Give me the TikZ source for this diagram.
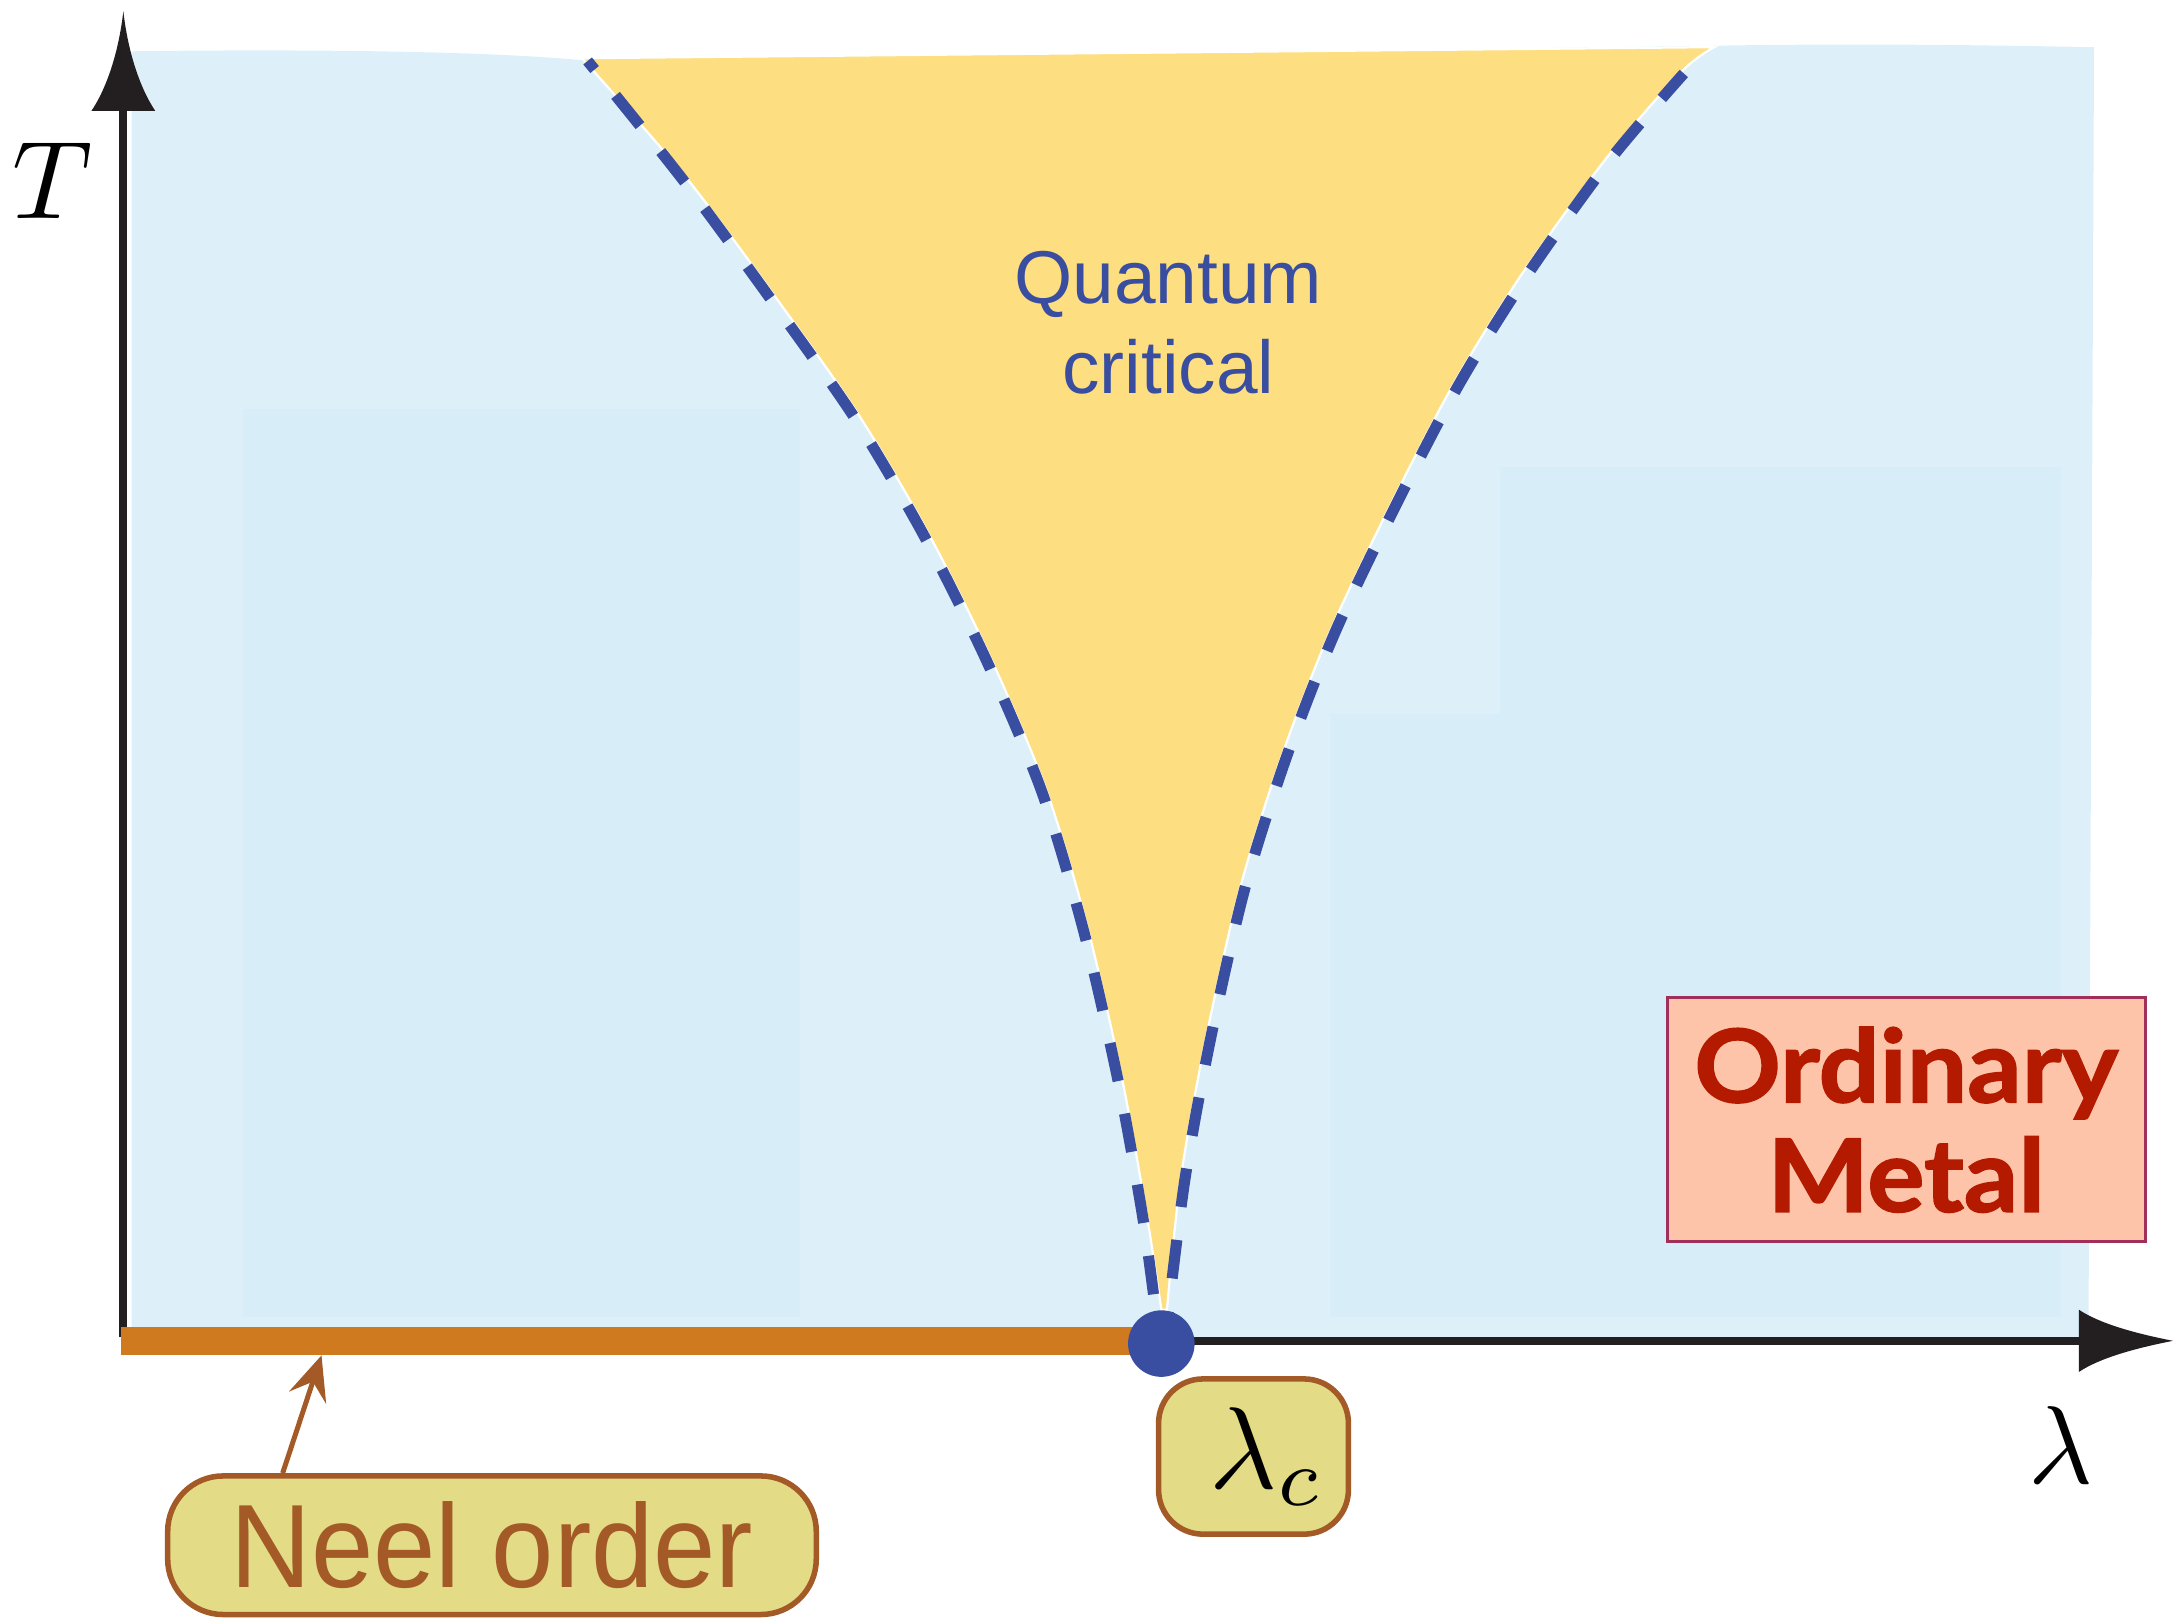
\documentclass[tikz,border=0pt]{standalone}
\usepackage{fontspec}
\setmainfont{Liberation Sans}
\newfontfamily\gillfont{Lato}[BoldFeatures={FakeBold=1.6,FakeStretch=1.06}]
\usetikzlibrary{arrows.meta,calc}
\definecolor{bgblue}{RGB}{221,240,249}
\definecolor{rectblue}{RGB}{215,238,248}
\definecolor{qcyellow}{RGB}{253,222,128}
\definecolor{dashblue}{RGB}{57,78,160}
\definecolor{neelorange}{RGB}{207,122,30}
\definecolor{boxfill}{RGB}{227,219,133}
\definecolor{boxedge}{RGB}{163,90,39}
\definecolor{metalfill}{RGB}{253,196,170}
\definecolor{metaledge}{RGB}{160,48,90}
\definecolor{metaltext}{RGB}{180,26,0}
\definecolor{axisblack}{RGB}{35,31,32}
\begin{document}
\begin{tikzpicture}[x=0.5pt,y=-0.5pt,
  axisline/.style={draw=axisblack,line width=3pt},
  axishead/.style={fill=axisblack},
  crossover/.style={draw=dashblue,line width=4pt,dash pattern=on 14pt off 12pt},
  neelbar/.style={draw=neelorange,line width=10pt},
  labelbox/.style={draw=boxedge,fill=boxfill,line width=2pt,rounded corners=#1,inner sep=0pt},
  metalbox/.style={draw=metaledge,fill=metalfill,line width=1pt,inner sep=0pt,
     minimum width=172.5pt,minimum height=88pt,align=center,text=metaltext},
  qcdot/.style={circle,fill=dashblue,inner sep=0pt,minimum size=24pt}
]
\useasboundingbox (0,0) rectangle (1568,1168);
% light blue background
\fill[bgblue] (95,37) .. controls (250,35) and (370,38) .. (425,44) -- (1237,33)
   .. controls (1350,31) and (1450,33) .. (1511,34) -- (1507,965) -- (95,965) -- cycle;
% faint panels
\fill[rectblue] (175,295) rectangle (577,950);
\fill[rectblue] (960,515) rectangle (1487,950);
\fill[rectblue] (1082,337) rectangle (1487,515);
% quantum critical fan
\fill[qcyellow,draw=white,line width=0.8pt] (420,42) -- (1237,34)
  -- plot[smooth] coordinates {(1237,34) (1213,52) (1160,113) (1100,195) (1050,275) (1003,365) (960,455) (925,545) (895,640) (870,750) (852,850) (842,945)}
  -- plot[smooth] coordinates {(838,945) (828,880) (810,780) (785,670) (755,570) (715,475) (670,385) (620,300) (560,215) (495,128) (420,42)}
  -- cycle;
% crossover dashed lines
\draw[crossover,dash phase=10pt] plot[smooth] coordinates {(424,44) (493,130) (557,217) (617,302) (667,387) (712,477) (752,572) (782,672) (807,781) (825,881) (835,955)};
\draw[crossover,dash phase=2pt] plot[smooth] coordinates {(1215,53) (1162,115) (1103,197) (1053,277) (1006,367) (963,457) (928,547) (898,642) (873,752) (855,851) (842,955)};
% axes
\coordinate (ytop) at (89,78);
\coordinate (xright) at (1502,967.5);
\coordinate (xmid) at (838,967.5);
\coordinate (neelstart) at (87,967.5);
\draw[axisline] (89,965) -- (ytop);
\fill[axishead] (89,8) .. controls (86,35) and (78,62) .. (66,80) -- (112,80) .. controls (100,62) and (92,35) .. (89,8) -- cycle;
\draw[axisline] (xmid) -- (xright);
\fill[axishead] (1568,967.5) .. controls (1540,962) and (1515,955) .. (1500,945) -- (1500,990) .. controls (1515,980) and (1540,973) .. (1568,967.5) -- cycle;
\draw[neelbar] (neelstart) -- (xmid);
\node[qcdot] (qcp) at (838,969.5) {};
% axis labels
\node (Tlab) at (38,130) {\scalebox{4.0}{$T$}};
\node (lamlab) at (1487,1043) {\scalebox{4.0}{$\lambda$}};
% quantum critical label
\node[text=dashblue,align=center,font=\fontsize{27}{32.5}\selectfont] (qc) at (843,233) {Quantum\\critical};
% ordinary metal box
\node[metalbox,font=\gillfont\bfseries\fontsize{36.5}{39.5}\selectfont] (metal) at (1375.5,808) {Ordinary\\Metal};
% lambda_c box
\node[labelbox=16pt,minimum width=68.5pt,minimum height=56pt] (lamc) at (904.5,1051) {\kern10pt\scalebox{4.2}{$\lambda_c$}};
% neel box
\node[labelbox=20pt,minimum width=234pt,minimum height=50pt,text=boxedge,font=\fontsize{40}{44}\selectfont] (neel) at (355,1115) {\scalebox{1.01}[1.07]{Neel order}};
\coordinate (neeltip) at (232,978);
\draw[boxedge,line width=1.8pt,-{Stealth[length=16pt,width=14pt,inset=6pt]}] ($(neel.north west)!0.18!(neel.north east)$) -- (neeltip);
\end{tikzpicture}
\end{document}
